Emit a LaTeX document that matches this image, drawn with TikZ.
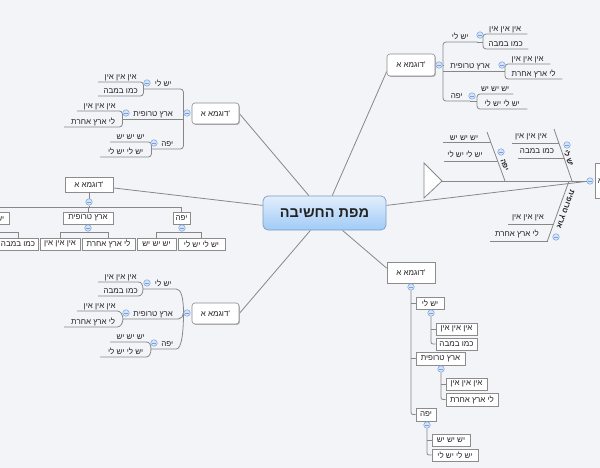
\documentclass[tikz,border=0pt]{standalone}
\usepackage{fontspec}
\setmainfont[Script=Hebrew]{Liberation Sans}
\TeXXeTstate=1
\usetikzlibrary{shadows}
\pgfdeclarelayer{back}
\pgfdeclarelayer{edges}
\pgfsetlayers{back,edges,main}
\newcommand{\he}[1]{\beginR #1\endR}
\definecolor{bgc}{RGB}{243,244,248}
\definecolor{lnc}{RGB}{135,135,135}
\definecolor{bxc}{RGB}{140,140,140}
\definecolor{tgf}{RGB}{214,228,248}
\definecolor{tgd}{RGB}{120,160,220}
\definecolor{txc}{RGB}{35,35,35}
\definecolor{ctop}{RGB}{226,238,252}
\definecolor{cbot}{RGB}{160,203,247}
\definecolor{cbd}{RGB}{125,155,195}
\begin{document}
\begin{tikzpicture}[x=1pt,y=-1pt,
  font=\fontsize{8}{9.6}\selectfont,
  ln/.style={draw=lnc, line width=0.8pt},
  bx/.style={draw=bxc, fill=white, line width=0.6pt, inner xsep=2pt, inner ysep=0pt, minimum height=12pt, text=txc,
     drop shadow={shadow xshift=0.9pt, shadow yshift=-0.9pt, fill=black!30, opacity=1}},
  rbx/.style={bx, rounded corners=3pt},
  tx/.style={inner sep=0pt, text=txc},
  ul/.style={tx, anchor=south west, inner ysep=1.2pt, text height=6pt, text depth=1.5pt},
  tog/.style={circle, draw=tgd, fill=tgf, minimum size=6.5pt, inner sep=0pt, line width=0.5pt,
     path picture={\draw[tgd, line width=0.7pt] ([xshift=-1.7pt]path picture bounding box.center) -- ([xshift=1.7pt]path picture bounding box.center);}},
  bone/.style={tx, font=\fontsize{7.5}{9}\selectfont\bfseries},
  ctrbox/.style={draw=cbd, rounded corners=5pt, top color=ctop, bottom color=cbot, line width=0.7pt, text=txc, font=\fontsize{14.5}{17}\selectfont\bfseries}
]
\begin{pgfonlayer}{back}
\path[fill=bgc, use as bounding box] (0,0) rectangle (600,468);
\end{pgfonlayer}
\clip (0,0) rectangle (600,468);

% ---------- centre ----------
\node[ctrbox, minimum width=123pt, minimum height=34pt] (ctr) at (324.5,213) {\he{מפת החשיבה}};

% ---------- top left ----------
\node[rbx, minimum width=47pt, minimum height=21pt] (tl) at (215.5,113.5) {\he{דוגמא א}'};
\node[ul, minimum width=40pt] (tl1) at (143,89) {\he{יש לי}};
\node[ul, minimum width=60pt] (tl2) at (123,119) {\he{ארץ טרופית}};
\node[ul, minimum width=32pt] (tl3) at (151,149) {\he{יפה}};
\node[ul, minimum width=45pt] (tl11) at (98,82) {\he{אין אין אין}};
\node[ul, minimum width=45pt] (tl12) at (98,96) {\he{כמו במבה}};
\node[ul, minimum width=45pt] (tl21) at (77,111) {\he{אין אין אין}};
\node[ul, minimum width=58pt] (tl22) at (64,127) {\he{לי ארץ אחרת}};
\node[ul, minimum width=41pt] (tl31) at (110,142) {\he{יש יש יש}};
\node[ul, minimum width=51pt] (tl32) at (100,157) {\he{יש לי יש לי}};
\node[tog] (tlc) at (187,113) {};
\node[tog] (tl1c) at (147,83) {};
\node[tog] (tl2c) at (126,113) {};
\node[tog] (tl3c) at (154,143) {};

% ---------- bottom left ----------
\node[rbx, minimum width=47pt, minimum height=21pt] (bl) at (215.5,313.5) {\he{דוגמא א}'};
\node[ul, minimum width=40pt] (bl1) at (143,289) {\he{יש לי}};
\node[ul, minimum width=60pt] (bl2) at (123,319) {\he{ארץ טרופית}};
\node[ul, minimum width=32pt] (bl3) at (151,349) {\he{יפה}};
\node[ul, minimum width=45pt] (bl11) at (98,282) {\he{אין אין אין}};
\node[ul, minimum width=45pt] (bl12) at (98,296) {\he{כמו במבה}};
\node[ul, minimum width=45pt] (bl21) at (77,311) {\he{אין אין אין}};
\node[ul, minimum width=58pt] (bl22) at (64,327) {\he{לי ארץ אחרת}};
\node[ul, minimum width=41pt] (bl31) at (110,342) {\he{יש יש יש}};
\node[ul, minimum width=51pt] (bl32) at (100,357) {\he{יש לי יש לי}};
\node[tog] (blc) at (187,313) {};
\node[tog] (bl1c) at (147,283) {};
\node[tog] (bl2c) at (126,313) {};
\node[tog] (bl3c) at (154,343) {};
\coordinate (blp) at (183.5,313);

% ---------- top right ----------
\node[rbx, minimum width=48pt, minimum height=22pt] (tr) at (411,65) {\he{דוגמא א}'};
\node[ul, minimum width=34pt] (tr1) at (443,42) {\he{יש לי}};
\node[ul, minimum width=54pt] (tr2) at (443,71) {\he{ארץ טרופית}};
\node[ul, minimum width=27pt] (tr3) at (443,101) {\he{יפה}};
\node[ul, minimum width=44pt] (tr11) at (483,34) {\he{אין אין אין}};
\node[ul, minimum width=45pt] (tr12) at (483,49) {\he{כמו במבה}};
\node[ul, minimum width=45pt] (tr21) at (505,64) {\he{אין אין אין}};
\node[ul, minimum width=57pt] (tr22) at (505,79) {\he{לי ארץ אחרת}};
\node[ul, minimum width=36pt] (tr31) at (477,94) {\he{יש יש יש}};
\node[ul, minimum width=50pt] (tr32) at (477,109) {\he{יש לי יש לי}};
\node[tog] (trc) at (439,65) {};
\node[tog] (tr1c) at (480,35) {};
\node[tog] (tr2c) at (502,65) {};
\node[tog] (tr3c) at (472,96) {};

% ---------- left (org chart) ----------
\node[bx, minimum width=48pt, minimum height=15pt] (l) at (89,184.5) {\he{דוגמא א}'};
\node[bx, minimum width=26pt] (l1) at (-4,218) {\he{יש לי}};
\node[bx, minimum width=50pt] (l2) at (88,218) {\he{ארץ טרופית}};
\node[bx, minimum width=17pt] (l3) at (181.5,218) {\he{יפה}};
\node[bx, minimum width=40pt] (l11) at (-22,244) {\he{אין אין אין}};
\node[bx, minimum width=40pt] (l12) at (18,244) {\he{כמו במבה}};
\node[bx, minimum width=40pt] (l21) at (60,244) {\he{אין אין אין}};
\node[bx, minimum width=53pt] (l22) at (108.5,244) {\he{לי ארץ אחרת}};
\node[bx, minimum width=39pt] (l31) at (156.5,244) {\he{יש יש יש}};
\node[bx, minimum width=47pt] (l32) at (201.5,244) {\he{יש לי יש לי}};
\node[tog] (lc) at (89,202) {};
\node[tog] (l1c) at (-4,228) {};
\node[tog] (l2c) at (88,228) {};
\node[tog] (l3c) at (182,228) {};
\coordinate (lbar) at (0,207);
\coordinate (lsub) at (0,232);

% ---------- bottom right (tree) ----------
\node[bx, minimum width=48pt, minimum height=21pt] (br) at (411,272.5) {\he{דוגמא א}'};
\node[bx, minimum width=28pt] (br1) at (430,303) {\he{יש לי}};
\node[bx, minimum width=49pt, minimum height=13pt] (br2) at (440.5,358.5) {\he{ארץ טרופית}};
\node[bx, minimum width=20pt, minimum height=13pt] (br3) at (426,414.5) {\he{יפה}};
\node[bx, minimum width=41pt] (br11) at (456.5,329) {\he{אין אין אין}};
\node[bx, minimum width=41pt] (br12) at (456.5,344) {\he{כמו במבה}};
\node[bx, minimum width=41pt] (br21) at (466.5,384) {\he{אין אין אין}};
\node[bx, minimum width=52pt, minimum height=13pt] (br22) at (472,399.5) {\he{לי ארץ אחרת}};
\node[bx, minimum width=38pt] (br31) at (451,440) {\he{יש יש יש}};
\node[bx, minimum width=46pt] (br32) at (455,455) {\he{יש לי יש לי}};
\node[tog] (brc) at (411,287) {};
\node[tog] (br1c) at (431,313) {};
\node[tog] (br2c) at (441,369) {};
\node[tog] (br3c) at (427,425) {};

% ---------- fishbone ----------
\coordinate (fbt) at (442,181);
\node[bx, anchor=west, minimum height=35pt, inner xsep=2.5pt] (fbh) at (595,180.5) {\he{דוגמא א}'};
\node[tog] (fbc) at (590,181) {};
\coordinate (b1a) at (572,181); \coordinate (b1b) at (554,129);
\coordinate (b2a) at (505,181); \coordinate (b2b) at (487,132);
\coordinate (b3a) at (569,181); \coordinate (b3b) at (547,242);
\node[bone, rotate=-70] (b1) at (569,158) {\he{יש לי}};
\node[bone, rotate=-70] (b2) at (504.5,165) {\he{יפה}};
\node[bone, rotate=-110] (b3) at (565,209) {\he{ארץ טרופית}};
\node[tx] (b11) at (531,137) {\he{אין אין אין}};
\node[tx] (b12) at (537,151) {\he{כמו במבה}};
\node[tx] (b21) at (464,138) {\he{יש יש יש}};
\node[tx] (b22) at (465,154) {\he{יש לי יש לי}};
\node[tx] (b31) at (528,218) {\he{אין אין אין}};
\node[tx] (b32) at (517,234) {\he{לי ארץ אחרת}};
\node[tog] (b1c) at (567,145) {};
\node[tog] (b2c) at (501,152) {};
\node[tog] (b3c) at (556,237) {};

\begin{pgfonlayer}{edges}
% centre connectors
\draw[ln] (ctr.132) -- (tl.east);
\draw[ln] (ctr.66) -- (tr.195);
\draw[ln] (ctr.173) -- (l.-8);
\draw[ln] (ctr.231) -- (bl.east);
\draw[ln] (ctr.-44) -- (br.170);
\draw[ln] (ctr.7) -- (fbc);

% top left
\draw[ln] (tlc) -- (tlc -| tl1.south east);
\draw[ln, rounded corners=3pt] (tl1.south west) -- (tl1.south east) -- (tl3.south east) -- (tl3.south west);
\draw[ln] (tl2.south west) -- (tl2.south east);
\draw[ln, rounded corners=3pt] (tl11.south west) -- (tl11.south east) -- (tl12.south east) -- (tl12.south west);
\draw[ln, rounded corners=3pt] (tl21.south west) -- (tl21.south east) -- (tl22.south east) -- (tl22.south west);
\draw[ln, rounded corners=3pt] (tl31.south west) -- (tl31.south east) -- (tl32.south east) -- (tl32.south west);

% bottom left (curved)
\draw[ln] (blc) -- (blp);
\draw[ln] (blp) .. controls +(0,-14) and +(5,0) .. ([xshift=-7pt]bl1.south east) -- (bl1.south west);
\draw[ln] (blp) .. controls +(0,3) and +(3,0) .. ([xshift=-5pt]bl2.south east) -- (bl2.south west);
\draw[ln] (blp) .. controls +(0,20) and +(5,0) .. ([xshift=-7pt]bl3.south east) -- (bl3.south west);
\draw[ln] (bl1.south west) .. controls +(0,-4) and +(3,0) .. ([xshift=-5pt]bl11.south east) -- (bl11.south west);
\draw[ln] (bl1.south west) .. controls +(0,4) and +(3,0) .. ([xshift=-5pt]bl12.south east) -- (bl12.south west);
\draw[ln] (bl2.south west) .. controls +(0,-4) and +(3,0) .. ([xshift=-5pt]bl21.south east) -- (bl21.south west);
\draw[ln] (bl2.south west) .. controls +(0,4) and +(3,0) .. ([xshift=-5pt]bl22.south east) -- (bl22.south west);
\draw[ln] (bl3.south west) .. controls +(0,-4) and +(3,0) .. ([xshift=-5pt]bl31.south east) -- (bl31.south west);
\draw[ln] (bl3.south west) .. controls +(0,4) and +(3,0) .. ([xshift=-5pt]bl32.south east) -- (bl32.south west);

% top right
\draw[ln] (trc) -- (trc -| tr1.south west);
\draw[ln, rounded corners=3pt] (tr1.south east) -- (tr1.south west) -- (tr3.south west) -- (tr3.south east);
\draw[ln] (tr2.south west) -- (tr2.south east);
\draw[ln] (tr1.south east) -- (tr1.south east -| tr11.south west);
\draw[ln] (tr2.south east) -- (tr2.south east -| tr21.south west);
\draw[ln] (tr3.south east) -- (tr3.south east -| tr31.south west);
\draw[ln, rounded corners=3pt] (tr11.south east) -- (tr11.south west) -- (tr12.south west) -- (tr12.south east);
\draw[ln, rounded corners=3pt] (tr21.south east) -- (tr21.south west) -- (tr22.south west) -- (tr22.south east);
\draw[ln, rounded corners=3pt] (tr31.south east) -- (tr31.south west) -- (tr32.south west) -- (tr32.south east);

% left org chart
\draw[ln] (l.south) -- (lc);
\draw[ln] (lc) -- (lc |- lbar);
\draw[ln] (l1.north) -- (l1.north |- lbar) -- (l3.north |- lbar) -- (l3.north);
\draw[ln] (l2.north) -- (l2.north |- lbar);
\draw[ln] (l1.south) -- (l1c) -- (l1c |- lsub);
\draw[ln] (l2.south) -- (l2c) -- (l2c |- lsub);
\draw[ln] (l3.south) -- (l3c) -- (l3c |- lsub);
\draw[ln] (l11.north) -- (l11.north |- lsub) -- (l12.north |- lsub) -- (l12.north);
\draw[ln] (l21.north) -- (l21.north |- lsub) -- (l22.north |- lsub) -- (l22.north);
\draw[ln] (l31.north) -- (l31.north |- lsub) -- (l32.north |- lsub) -- (l32.north);

% bottom right tree
\draw[ln] (br.south) -- (brc);
\draw[ln, rounded corners=2pt] (brc) -- (brc |- br3.west) -- (br3.west);
\draw[ln] (brc |- br1.west) -- (br1.west);
\draw[ln] (brc |- br2.west) -- (br2.west);
\draw[ln] (br1c |- br1.south) -- (br1c);
\draw[ln, rounded corners=2pt] (br1c) -- (br1c |- br12.west) -- (br12.west);
\draw[ln] (br1c |- br11.west) -- (br11.west);
\draw[ln] (br2c |- br2.south) -- (br2c);
\draw[ln, rounded corners=2pt] (br2c) -- (br2c |- br22.west) -- (br22.west);
\draw[ln] (br2c |- br21.west) -- (br21.west);
\draw[ln] (br3c |- br3.south) -- (br3c);
\draw[ln, rounded corners=2pt] (br3c) -- (br3c |- br32.west) -- (br32.west);
\draw[ln] (br3c |- br31.west) -- (br31.west);

% fishbone
\draw[ln] (fbt) -- (fbc);
\draw[ln, fill=white] (424,163) -- (fbt) -- (424,198) -- cycle;
\draw[ln] (b1a) -- (b1b);
\draw[ln] (b2a) -- (b2b);
\draw[ln] (b3a) -- (b3b);
\draw[ln] (512,143) -- (559,143);
\draw[ln] (518,158) -- (565,158);
\draw[ln] (443,142) -- (491,142);
\draw[ln] (444,161) -- (498,161);
\draw[ln] (508,224) -- (554,224);
\draw[ln] (490,241) -- (548,241);
\end{pgfonlayer}
\end{tikzpicture}
\end{document}
